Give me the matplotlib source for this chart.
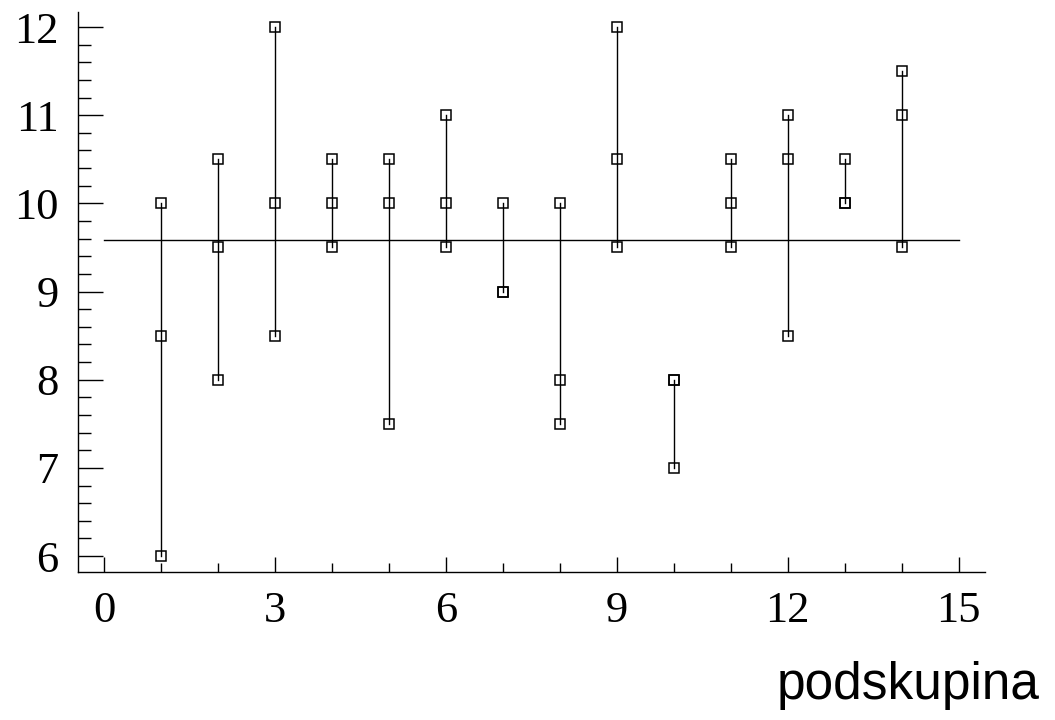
import matplotlib
matplotlib.use("Agg")
import matplotlib.pyplot as plt
from matplotlib.ticker import MultipleLocator

groups = [1, 2, 3, 4, 5, 6, 7, 8, 9, 10, 11, 12, 13, 14]
values = [
    [10.0, 8.5, 6.0],
    [10.5, 9.5, 8.0],
    [12.0, 10.0, 8.5],
    [10.5, 10.0, 9.5],
    [10.5, 10.0, 7.5],
    [11.0, 10.0, 9.5],
    [10.0, 9.0, 9.0],
    [10.0, 8.0, 7.5],
    [12.0, 10.5, 9.5],
    [8.0, 8.0, 7.0],
    [10.5, 10.0, 9.5],
    [11.0, 10.5, 8.5],
    [10.5, 10.0, 10.0],
    [11.5, 11.0, 9.5],
]
center_line = 9.58
x_ticks = [0, 3, 6, 9, 12, 15]
y_ticks = [6, 7, 8, 9, 10, 11, 12]
x_label = "podskupina"

fig = plt.figure(figsize=(10.55, 7.2), dpi=100)
ax = fig.add_axes([0.0739, 0.2056, 0.8597, 0.7777])

for g, vals in zip(groups, values):
    ax.plot([g, g], [min(vals), max(vals)], color="black", lw=1.0, zorder=2)
    for v in vals:
        ax.plot(g, v, marker="s", ms=7.0, mfc="none", mec="black", mew=1.1,
                ls="none", zorder=3)

ax.plot([0, 15], [center_line, center_line], color="black", lw=1.0, zorder=1)

ax.set_xlim(-0.46, 15.46)
ax.set_ylim(5.82, 12.17)
for s in ["top", "right"]:
    ax.spines[s].set_visible(False)
for s in ["left", "bottom"]:
    ax.spines[s].set_linewidth(1.0)

ax.set_xticks(x_ticks)
ax.set_yticks(y_ticks)
ax.xaxis.set_minor_locator(MultipleLocator(1))
ax.yaxis.set_minor_locator(MultipleLocator(0.2))
ax.tick_params(axis="x", which="major", direction="in", length=11, width=1.0, pad=14)
ax.tick_params(axis="x", which="minor", direction="in", length=6.5, width=1.0)
ax.tick_params(axis="y", which="major", direction="in", length=18, width=1.0, pad=14)
ax.tick_params(axis="y", which="minor", direction="in", length=9, width=1.0)
for lab in ax.get_xticklabels() + ax.get_yticklabels():
    lab.set_fontfamily("Liberation Serif")
    lab.set_fontsize(32)

fig.text(0.985, 0.048, x_label, ha="right", va="center",
         fontfamily="Liberation Sans", fontsize=37)

fig.savefig("out.png", dpi=100)
